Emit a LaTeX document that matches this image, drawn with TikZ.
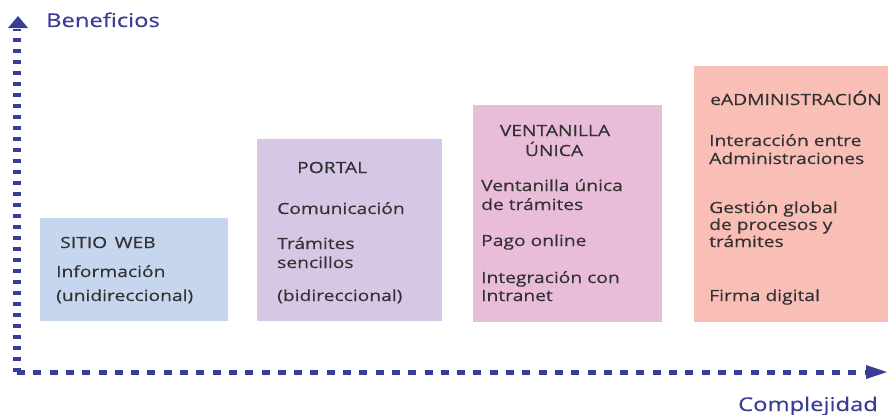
\documentclass[tikz,border=0pt]{standalone}
\usepackage{fontspec}
\setmainfont{Open Sans}[FakeStretch=1.25, FakeBold=0.4]
\definecolor{axisblue}{RGB}{56,62,150}
\definecolor{txtgray}{RGB}{50,50,50}
\definecolor{boxA}{RGB}{198,214,238}
\definecolor{boxB}{RGB}{214,200,228}
\definecolor{boxC}{RGB}{233,188,218}
\definecolor{boxD}{RGB}{249,190,182}
\tikzset{
  stage/.style={rectangle, inner sep=0pt, anchor=north west, draw=none},
  itemtxt/.style={anchor=base west, inner sep=0pt, text=txtgray, font=\fontsize{15.4}{19}\selectfont},
  headtxt/.style={itemtxt},
  axislabel/.style={anchor=base west, inner sep=0pt, text=axisblue, font=\fontsize{19}{23}\selectfont},
}
\begin{document}
\begin{tikzpicture}[x=1pt,y=-1pt]
\useasboundingbox (0,0) rectangle (889,415);
% boxes
\node[stage, fill=boxA, minimum width=188pt, minimum height=103pt] (web) at (40,218) {};
\node[stage, fill=boxB, minimum width=185pt, minimum height=182pt] (portal) at (257,139) {};
\node[stage, fill=boxC, minimum width=189pt, minimum height=217pt] (vent) at (473,105) {};
\node[stage, fill=boxD, minimum width=194pt, minimum height=256pt] (eadm) at (694,66) {};
% axes
\coordinate (o) at (17,372);
\coordinate (ytop) at (17,29);
\coordinate (yapex) at (18,16);
\coordinate (xend) at (866,372);
\coordinate (xapex) at (887,372);
\draw[axisblue, line width=8pt, dash pattern=on 4pt off 7pt] (o) -- (ytop);
\draw[axisblue, line width=5pt, dash pattern=on 8pt off 8.3pt] (o) -- (xend);
\fill[axisblue] (yapex) -- ++(10,12) -- ++(-20,0) -- cycle;
\fill[axisblue] (xapex) -- ++(-21,-7) -- ++(0,14) -- cycle;
\node[axislabel] (ben) at (46,27) {Beneficios};
\node[axislabel] (comp) at (738,411) {Complejidad};
% box 1
\node[headtxt] (w1) at (60,248) {SITIO\, WEB};
\node[itemtxt] (w2) at (56,277) {Información};
\node[itemtxt] (w3) at (56,301) {(unidireccional)};
% box 2
\node[headtxt] (p1) at (297,173) {PORTAL};
\node[itemtxt] (p2) at (277,214) {Comunicación};
\node[itemtxt] (p3) at (277,249) {Trámites};
\node[itemtxt] (p4) at (277,268) {sencillos};
\node[itemtxt] (p5) at (277,301) {(bidireccional)};
% box 3
\node[headtxt, anchor=base] (v1) at (555,136) {VENTANILLA};
\node[headtxt, anchor=base] (v2) at (554,156) {ÚNICA};
\node[itemtxt] (v3) at (481,191) {Ventanilla única};
\node[itemtxt] (v4) at (481,210) {de trámites};
\node[itemtxt] (v5) at (481,246) {Pago online};
\node[itemtxt] (v6) at (481,283) {Integración con};
\node[itemtxt] (v7) at (481,301) {Intranet};
% box 4
\node[headtxt] (e1) at (710,105) {eADMINISTRACIÓN};
\node[itemtxt] (e2) at (709,146) {Interacción entre};
\node[itemtxt] (e3) at (709,164) {Administraciones};
\node[itemtxt] (e4) at (709,213) {Gestión global};
\node[itemtxt] (e5) at (709,230) {de procesos y};
\node[itemtxt] (e6) at (709,247) {trámites};
\node[itemtxt] (e7) at (709,301) {Firma digital};
\end{tikzpicture}
\end{document}
